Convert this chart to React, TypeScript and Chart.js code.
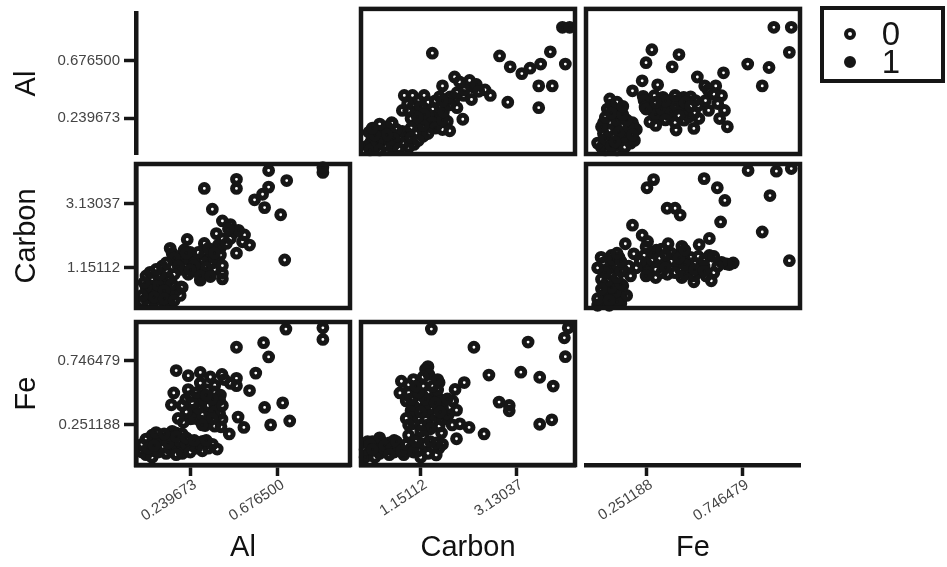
import React, { useEffect, useRef } from "react";
import { Chart, registerables } from "chart.js";

Chart.register(...registerables);

// ---------------- data ----------------
const variableNames = ["Al", "Carbon", "Fe"];
const alTicks = [0.239673, 0.6765];
const carbonTicks = [1.15112, 3.13037];
const feTicks = [0.251188, 0.746479];
const alTickLabels = ["0.239673", "0.676500"];
const carbonTickLabels = ["1.15112", "3.13037"];
const feTickLabels = ["0.251188", "0.746479"];
const alLimits = [-0.03, 1.035];
const carbonLimits = [-0.085, 4.34];
const feLimits = [-0.06, 1.045];
const classLabels = ["0", "1"];

// [Al, Carbon]
const alCarbonClass0 = [
  [0.71, 1.39], [0.69, 2.78], [0.61, 3.0], [0.56, 3.24], [0.6, 3.41], [0.63, 3.63], [0.72, 3.83], [0.63, 4.14],
  [0.47, 3.59], [0.47, 3.87], [0.35, 2.95], [0.31, 3.59], [0.535, 1.85], [0.51, 2.16], [0.46, 2.25], [0.44, 2.48],
  [0.4, 2.59], [0.4, 2.04], [0.47, 1.6], [0.39, 1.76], [0.31, 1.9], [0.225, 2.02], [0.4, 0.81], [0.4, 0.98],
  [0.29, 0.77], [0.39, 1.54], [0.24, 1.62], [0.24, 1.37], [0.04, 1.01], [0.135, 0.77], [0.195, 0.56], [0.135, 0.17],
  [0.145, 0.39],
  [0.33, 1.0], [0.36, 1.1], [0.31, 1.2], [0.35, 1.3], [0.27, 1.15], [0.22, 1.25], [0.3, 1.4], [0.17, 1.35],
  [0.25, 1.45], [0.19, 1.5], [0.15, 1.6], [0.31, 1.55], [0.21, 1.7], [0.14, 1.75], [0.19, 1.1], [0.23, 0.95],
  [0.12, 1.05], [0.08, 0.9], [0.1, 1.2], [0.26, 1.3], [0.34, 1.65], [0.38, 1.85], [0.36, 1.45], [0.4, 1.22],
  [0.28, 1.05], [0.32, 1.15], [0.26, 1.22], [0.2, 1.38], [0.16, 1.45], [0.22, 1.6], [0.28, 1.62], [0.33, 1.75],
  [0.36, 1.6], [0.12, 1.3], [0.18, 1.2], [0.24, 1.08], [0.29, 0.9], [0.34, 0.88], [0.16, 0.95], [0.13, 0.85],
  [0.42, 1.9], [0.44, 2.05], [0.37, 2.2], [0.5, 1.95], [0.48, 2.3], [0.43, 2.35],
  [0.03, 0.05], [0.06, 0.12], [0.02, 0.2], [0.05, 0.3], [0.03, 0.4], [0.07, 0.5], [0.04, 0.6], [0.09, 0.7],
  [0.12, 0.55], [0.09, 0.35], [0.1, 0.15], [0.13, 0.08], [0.14, 0.25], [0.17, 0.45], [0.05, 0.8], [0.02, 0.9],
  [0.15, 0.65], [0.19, 0.3], [0.0, 0.1], [0.08, 0.6], [0.11, 0.45], [0.06, 0.25], [0.02, 0.55], [0.09, 0.95],
  [0.07, 1.1], [0.0, 0.3], [0.01, 0.7], [0.11, 0.2], [0.16, 0.15], [0.2, 0.55],
];
const alCarbonClass1 = [[0.9, 4.08], [0.9, 4.23]];

// [Al, Fe]
const alFeClass0 = [
  [0.9, 0.91], [0.9, 1.0], [0.716, 0.99], [0.63, 0.775], [0.605, 0.885], [0.47, 0.85], [0.735, 0.28], [0.7, 0.42],
  [0.64, 0.25], [0.61, 0.385], [0.507, 0.23], [0.478, 0.31], [0.434, 0.18], [0.393, 0.235], [0.398, 0.293],
  [0.535, 0.515], [0.47, 0.553], [0.47, 0.61], [0.566, 0.65], [0.398, 0.64], [0.29, 0.655], [0.23, 0.63],
  [0.17, 0.67], [0.29, 0.573], [0.23, 0.523], [0.146, 0.405], [0.218, 0.447], [0.158, 0.497], [0.278, 0.462],
  [0.362, 0.408], [0.386, 0.337], [0.259, 0.364], [0.254, 0.32], [0.314, 0.267], [0.362, 0.24], [0.302, 0.122],
  [0.23, 0.134], [0.038, 0.098], [0.17, 0.187], [0.374, 0.063],
  [0.314, 0.245], [0.29, 0.28], [0.338, 0.33], [0.362, 0.366], [0.362, 0.418], [0.386, 0.444], [0.242, 0.297],
  [0.206, 0.27], [0.362, 0.505], [0.39, 0.48], [0.326, 0.52], [0.242, 0.47], [0.362, 0.557], [0.44, 0.57],
  [0.41, 0.6], [0.34, 0.62],
  [0.26, 0.3], [0.3, 0.33], [0.28, 0.38], [0.33, 0.4], [0.3, 0.45], [0.25, 0.42], [0.35, 0.45], [0.22, 0.35],
  [0.2, 0.4], [0.27, 0.5], [0.32, 0.48], [0.36, 0.35], [0.4, 0.4], [0.18, 0.3], [0.3, 0.25], [0.35, 0.3],
  [0.02, 0.02], [0.06, 0.05], [0.1, 0.08], [0.12, 0.03], [0.15, 0.1], [0.2, 0.06], [0.08, 0.12], [0.12, 0.15],
  [0.05, 0.17], [0.18, 0.13], [0.25, 0.09], [0.3, 0.05], [0.33, 0.07], [0.28, 0.11], [0.2, 0.18], [0.15, 0.2],
  [0.0, 0.04], [0.0, 0.1], [0.02, 0.14], [0.2, 0.03],
  [0.05, 0.0], [0.08, 0.04], [0.14, 0.06], [0.17, 0.02], [0.22, 0.1], [0.24, 0.04], [0.27, 0.07], [0.1, 0.14],
  [0.07, 0.19], [0.03, 0.07], [0.13, 0.11], [0.17, 0.16], [0.22, 0.15], [0.26, 0.13], [0.35, 0.1], [0.32, 0.13],
  [0.06, 0.09], [0.11, 0.18],
];
const alFeClass1 = [[0.36, 0.43], [0.38, 0.45]];

// [Carbon, Fe]
const carbonFeClass0 = [
  [4.14, 0.777], [4.12, 0.923], [4.2, 1.0], [3.37, 0.89], [2.25, 0.85], [1.37, 0.99], [3.89, 0.55], [3.61, 0.618],
  [3.22, 0.657], [2.56, 0.635], [3.86, 0.289], [3.61, 0.255], [2.98, 0.359], [2.98, 0.4], [2.77, 0.426],
  [2.46, 0.18], [2.15, 0.23], [1.96, 0.258], [1.89, 0.143], [1.89, 0.364], [1.81, 0.435], [1.86, 0.524],
  [2.05, 0.577], [1.58, 0.187], [1.53, 0.24], [1.69, 0.303], [1.53, 0.408], [1.47, 0.48], [1.53, 0.577],
  [1.27, 0.666], [1.32, 0.64], [1.06, 0.134], [0.64, 0.116], [0.33, 0.124], [1.0, 0.33], [1.16, 0.249],
  [1.11, 0.426], [0.72, 0.497], [0.75, 0.587], [0.85, 0.435], [1.06, 0.515], [1.53, 0.071], [1.47, 0.018],
  [1.3, 0.25], [1.4, 0.28], [1.45, 0.32], [1.25, 0.35], [1.35, 0.38], [1.3, 0.42], [1.4, 0.45], [1.3, 0.5],
  [1.2, 0.55], [1.1, 0.3], [0.95, 0.36], [1.0, 0.4], [0.95, 0.45], [0.9, 0.5], [1.2, 0.47], [1.5, 0.52],
  [1.6, 0.29], [1.72, 0.33], [1.35, 0.22], [1.0, 0.26], [1.0, 0.6], [0.9, 0.56], [1.6, 0.38], [1.6, 0.44],
  [1.15, 0.35], [1.25, 0.45], [1.45, 0.42], [1.55, 0.35], [1.1, 0.5], [1.05, 0.55], [1.4, 0.55], [1.2, 0.62],
  [1.5, 0.6], [0.85, 0.3], [1.7, 0.45], [1.8, 0.25], [1.15, 0.2], [0.9, 0.25],
  [0.05, 0.02], [0.1, 0.05], [0.2, 0.08], [0.3, 0.03], [0.45, 0.06], [0.35, 0.1], [0.6, 0.04], [0.7, 0.09],
  [0.8, 0.02], [0.95, 0.07], [0.15, 0.12], [1.1, 0.05], [1.25, 0.1], [1.3, 0.03], [1.4, 0.08], [0.5, 0.11],
  [0.0, 0.0], [0.0, 0.06], [0.05, 0.12], [0.3, 0.15], [0.6, 0.13], [0.9, 0.17], [1.2, 0.16], [1.47, 0.11],
  [0.1, 0.1], [0.25, 0.05], [0.4, 0.09], [0.55, 0.07], [0.65, 0.12], [0.75, 0.05], [0.85, 0.1], [1.0, 0.04],
  [1.05, 0.12], [0.2, 0.0], [0.5, 0.02], [1.15, 0.0], [0.15, 0.06], [1.35, 0.12], [1.6, 0.1],
];
const carbonFeClass1 = [[1.25, 0.68], [1.3, 0.7]];

// ---------------- layout / style ----------------
const INK = "#161616";
const TICK_TEXT = "#444444";
const FONT = "'Liberation Sans', Arial, Helvetica, sans-serif";
const PAGE_W = 947;
const PAGE_H = 567;
const boxLeft = [136, 361, 586];
const boxRight = [350, 575, 800];
const boxTop = [8, 164, 322];
const boxBottom = [154, 308, 465];
const PAD = 24;

const ticksByVar = [alTicks, carbonTicks, feTicks];
const tickLabelsByVar = [alTickLabels, carbonTickLabels, feTickLabels];
const limitsByVar = [alLimits, carbonLimits, feLimits];
const pairTable: Record<string, number[][][]> = {
  "0-1": [alCarbonClass0, alCarbonClass1],
  "0-2": [alFeClass0, alFeClass1],
  "1-2": [carbonFeClass0, carbonFeClass1],
};

function pointsFor(r: number, c: number, cls: number) {
  if (r === c) return [];
  const lo = Math.min(r, c);
  const hi = Math.max(r, c);
  const rows = pairTable[`${lo}-${hi}`][cls];
  return rows.map(([a, b]) => (c === lo ? { x: a, y: b } : { x: b, y: a }));
}

const panelBox = {
  id: "panelBox",
  afterDatasetsDraw(chart: any, _args: any, opts: any) {
    if (!opts || !opts.show) return;
    const { ctx, chartArea } = chart;
    ctx.save();
    ctx.lineWidth = 4.5;
    ctx.strokeStyle = INK;
    ctx.strokeRect(
      chartArea.left,
      chartArea.top,
      chartArea.right - chartArea.left,
      chartArea.bottom - chartArea.top
    );
    ctx.restore();
  },
};

function makeScale(v: number, show: boolean, axis: "x" | "y") {
  return {
    type: "linear",
    display: show,
    min: limitsByVar[v][0],
    max: limitsByVar[v][1],
    afterBuildTicks: (s: any) => {
      s.ticks = ticksByVar[v].map((value) => ({ value }));
    },
    afterFit: (s: any) => {
      if (!show) return;
      if (axis === "y") s.width = boxLeft[0];
      else s.height = PAGE_H - boxBottom[2];
    },
    grid: {
      display: true,
      drawOnChartArea: false,
      drawTicks: true,
      tickLength: axis === "y" ? 12 : 11,
      tickWidth: 3.5,
      tickColor: INK,
    },
    border: { display: true, width: 4.5, color: INK },
    ticks: {
      autoSkip: false,
      color: TICK_TEXT,
      font: { family: FONT, size: 15 },
      padding: axis === "y" ? 4 : 0,
      labelOffset: axis === "x" ? 5 : 0,
      minRotation: axis === "x" ? 33 : 0,
      maxRotation: axis === "x" ? 33 : 0,
      callback: (_val: any, i: number) => tickLabelsByVar[v][i],
    },
    title: {
      display: true,
      text: variableNames[v],
      color: "#111111",
      font: { family: FONT, size: 29 },
      padding: axis === "y" ? { top: 10, bottom: 0 } : { top: 0, bottom: 2 },
    },
  };
}

function Cell({ r, c }: { r: number; c: number }) {
  const ref = useRef<HTMLCanvasElement>(null);
  const showY = c === 0;
  const showX = r === 2;
  const padTop = Math.min(PAD, boxTop[r]);
  const left = showY ? 0 : boxLeft[c] - PAD;
  const top = boxTop[r] - padTop;
  const right = boxRight[c] + PAD;
  const bottom = showX ? PAGE_H : boxBottom[r] + PAD;
  const width = right - left;
  const height = bottom - top;

  useEffect(() => {
    if (!ref.current) return;
    const pointStyle = {
      pointRadius: 3.9,
      pointHoverRadius: 3.9,
      pointBorderWidth: 5,
      pointBorderColor: INK,
      clip: false,
    };
    const chart = new Chart(ref.current, {
      type: "scatter",
      data: {
        datasets: [
          {
            label: classLabels[0],
            data: pointsFor(r, c, 0),
            ...pointStyle,
            pointBackgroundColor: "rgba(0,0,0,0)",
            order: 0,
          },
          {
            label: classLabels[1],
            data: pointsFor(r, c, 1),
            ...pointStyle,
            pointBackgroundColor: INK,
            order: 1,
          },
        ],
      } as any,
      options: {
        responsive: false,
        animation: false,
        events: [],
        layout: {
          padding: {
            left: showY ? 0 : PAD,
            right: PAD,
            top: padTop,
            bottom: showX ? 0 : PAD,
          },
        },
        plugins: {
          legend: { display: false },
          tooltip: { enabled: false },
          panelBox: { show: r !== c },
        } as any,
        scales: {
          x: makeScale(c, showX, "x"),
          y: makeScale(r, showY, "y"),
        } as any,
      },
      plugins: [panelBox as any],
    });
    return () => chart.destroy();
  }, []);

  return (
    <canvas
      ref={ref}
      width={width}
      height={height}
      style={{ position: "absolute", left, top, width, height }}
    />
  );
}

function Legend() {
  const items = [
    { label: classLabels[0], filled: false, cy: 34 },
    { label: classLabels[1], filled: true, cy: 62 },
  ];
  return (
    <>
      <div
        style={{
          position: "absolute",
          left: 820,
          top: 6,
          width: 125,
          height: 77,
          border: `4.5px solid ${INK}`,
          boxSizing: "border-box",
        }}
      />
      {items.map((it) => (
        <React.Fragment key={it.label}>
          <div
            style={{
              position: "absolute",
              left: 844,
              top: it.cy - 6,
              width: 12,
              height: 12,
              borderRadius: "50%",
              boxSizing: "border-box",
              border: `4.5px solid ${INK}`,
              background: it.filled ? INK : "transparent",
            }}
          />
          <div
            style={{
              position: "absolute",
              left: 870,
              top: it.cy - 20,
              width: 42,
              height: 40,
              lineHeight: "40px",
              textAlign: "center",
              fontFamily: FONT,
              fontSize: 33,
              color: INK,
            }}
          >
            {it.label}
          </div>
        </React.Fragment>
      ))}
    </>
  );
}

export default function App() {
  const cells: { r: number; c: number }[] = [];
  for (let r = 0; r < 3; r++) {
    for (let c = 0; c < 3; c++) {
      if (r === 1 && c === 1) continue;
      cells.push({ r, c });
    }
  }
  return (
    <div
      style={{
        position: "absolute",
        left: 0,
        top: 0,
        width: PAGE_W,
        height: PAGE_H,
        background: "#ffffff",
        overflow: "hidden",
      }}
    >
      {cells.map(({ r, c }) => (
        <Cell key={`${r}-${c}`} r={r} c={c} />
      ))}
      <Legend />
    </div>
  );
}
